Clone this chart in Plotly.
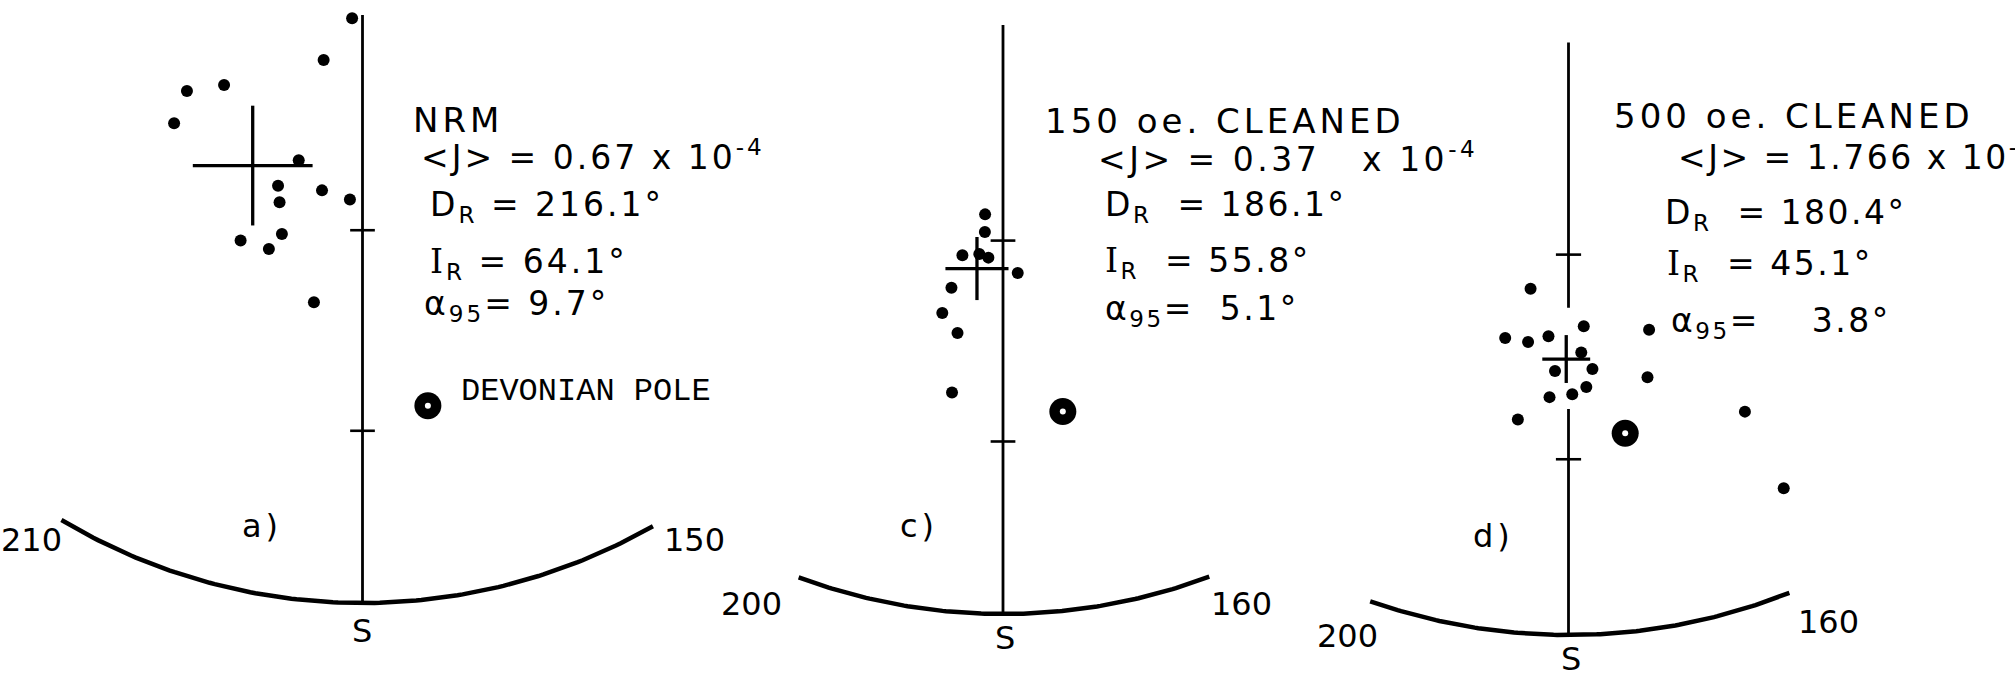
import numpy as np
import plotly.graph_objects as go

W, H = 2015, 679

# ---------------- data (declination, inclination in degrees) ----------------
a_dec = [252.6, 220.8, 243.2, 246.6, 240.1, 203.7, 206.3, 203.9, 193.0, 183.9, 200.2, 208.4, 201.8, 189.6]
a_inc = [88.5, 81.8, 68.5, 63.4, 59.7, 68.0, 63.5, 61.5, 65.0, 64.3, 57.4, 54.1, 54.7, 49.0]
c_dec = [185.4, 185.0, 190.0, 185.9, 183.6, 176.6, 191.1, 191.9, 188.4, 187.9]
c_inc = [63.6, 61.1, 57.4, 57.9, 57.5, 55.3, 52.5, 48.6, 46.1, 37.1]
d_dec = [188.5, 177.0, 164.7, 191.8, 187.5, 183.8, 177.7, 182.3, 175.9, 167.0, 183.0, 179.4, 177.1, 187.5, 154.9, 154.6]
d_inc = [54.8, 49.8, 47.8, 47.2, 47.2, 48.3, 46.0, 43.3, 43.5, 41.1, 39.4, 39.9, 40.9, 35.6, 31.3, 17.5]

panel_labels = ["a)", "c)", "d)"]
titles = ["NRM", "150 oe. CLEANED", "500 oe. CLEANED"]
j_mean = ["0.67", "0.37", "1.766"]
j_exp = "-4"
mean_dec = [216.1, 186.1, 180.4]
mean_inc = [64.1, 55.8, 45.1]
alpha95 = [9.7, 5.1, 3.8]
pole_dec = [170.5, 171.2, 171.9]
pole_inc = [33.1, 34.0, 33.4]
arc_left = [210, 200, 200]
arc_right = [150, 160, 160]
inc_ticks = [30, 60]
pole_label = "DEVONIAN POLE"

dots_dec = [a_dec, c_dec, d_dec]
dots_inc = [a_inc, c_inc, d_inc]

# ---------------- layout geometry (pixels) ----------------
PANELS = [
    dict(cx=362.5, cy=15, R=588, meridian=[(90, 0)], arc=(150.4, 210.8)),
    dict(cx=1003, cy=25, R=589, meridian=[(90, 0)], arc=(159.5, 200.3)),
    dict(cx=1568.5, cy=35, R=600, meridian=[(89, 52.5), (37.7, 0)], arc=(158.4, 199.3)),
]
FONT = "DejaVu Sans"
NB = "\u00a0"
CROSS_K = 0.0105   # net units per degree of alpha95
TICK_HALF = 0.021


def proj(dec, inc):
    dec = np.asarray(dec, dtype=float)
    inc = np.asarray(inc, dtype=float)
    r = np.sqrt(2) * np.sin(np.radians(90 - inc) / 2)
    return r * np.sin(np.radians(dec)), r * np.cos(np.radians(dec))


def P(x, y):
    return x / W, 1 - y / H


fig = go.Figure()
layout = dict(width=W, height=H, margin=dict(l=0, r=0, t=0, b=0),
              paper_bgcolor="white", plot_bgcolor="rgba(0,0,0,0)",
              showlegend=False)
annotations = []

for k, p in enumerate(PANELS):
    sx = "" if k == 0 else str(k + 1)
    xa, ya = "x" + sx, "y" + sx
    R = p["R"]
    layout["xaxis" + sx] = dict(domain=[0, 1], range=[-p["cx"] / R, (W - p["cx"]) / R],
                                visible=False, anchor=ya, fixedrange=True)
    layout["yaxis" + sx] = dict(domain=[0, 1], range=[(p["cy"] - H) / R, p["cy"] / R],
                                visible=False, anchor=xa, fixedrange=True)
    line_kw = dict(mode="lines", xaxis=xa, yaxis=ya, hoverinfo="skip")

    # primitive circle arc
    ad = np.linspace(p["arc"][0], p["arc"][1], 120)
    ax_, ay_ = proj(ad, np.zeros_like(ad))
    fig.add_trace(go.Scatter(x=ax_, y=ay_, line=dict(color="black", width=4.5), **line_kw))

    # south meridian (inclination scale)
    mx, my = [], []
    for i1, i2 in p["meridian"]:
        ii = np.linspace(i1, i2, 30)
        x_, y_ = proj(np.full_like(ii, 180.0), ii)
        mx += list(x_) + [None]
        my += list(y_) + [None]
    fig.add_trace(go.Scatter(x=mx, y=my, line=dict(color="black", width=2.8), **line_kw))

    # inclination ticks
    tx, ty = [], []
    for t in inc_ticks:
        _, y0 = proj(180.0, t)
        tx += [-TICK_HALF, TICK_HALF, None]
        ty += [float(y0), float(y0), None]
    fig.add_trace(go.Scatter(x=tx, y=ty, line=dict(color="black", width=2.6), **line_kw))

    # mean direction with alpha95 cross
    cxm, cym = proj(mean_dec[k], mean_inc[k])
    cxm, cym = float(cxm), float(cym)
    h = alpha95[k] * CROSS_K
    fig.add_trace(go.Scatter(x=[cxm - h, cxm + h, None, cxm, cxm],
                             y=[cym, cym, None, cym - h, cym + h],
                             line=dict(color="black", width=3.3), **line_kw))

    # specimen directions
    dx, dy = proj(dots_dec[k], dots_inc[k])
    fig.add_trace(go.Scatter(x=dx, y=dy, mode="markers", xaxis=xa, yaxis=ya,
                             marker=dict(color="black", size=12, line=dict(width=0))))

    # Devonian pole
    px_, py_ = proj(pole_dec[k], pole_inc[k])
    fig.add_trace(go.Scatter(x=[float(px_)], y=[float(py_)], mode="markers", xaxis=xa, yaxis=ya,
                             marker=dict(color="black", size=27, line=dict(width=0))))
    fig.add_trace(go.Scatter(x=[float(px_)], y=[float(py_)], mode="markers", xaxis=xa, yaxis=ya,
                             marker=dict(color="white", size=6, line=dict(width=0))))


# ---------------- text ----------------
def ann(text, x, y, xanchor="left", size=33, family=FONT, ls=None):
    xp, yp = P(x, y)
    if ls:
        t = f'<span style="letter-spacing:{ls}px;font-size:{size}px">{text}</span>'
    else:
        t = text
    annotations.append(dict(text=t, x=xp, y=yp, xref="paper", yref="paper",
                            xanchor=xanchor, yanchor="middle", showarrow=False,
                            font=dict(family=family, size=size, color="black")))


def serif_i(size):
    return f'<span style="font-family:\'DejaVu Serif\';font-size:{size}px">I</span>'


# per panel text positions (left x, centre y)
text_pos = [
    [(411, 120), (419, 156), (428, 206), (428, 264), (422, 305)],
    [(1043, 121), (1096, 157), (1103, 206), (1103, 262), (1103, 311)],
    [(1612, 116), (1676, 156), (1663, 214), (1665, 266), (1669, 322)],
]
gap_eq = [NB, NB * 2, NB * 2]
gap_a = [NB, NB * 2, NB * 4]
j_gap = [NB, NB * 3, NB]
j_ls = [3, 3.5, 2.5]
val_ls = [3, 2.5, 2.5]

for k in range(3):
    tp = text_pos[k]
    ann(titles[k], *tp[0], size=34, ls=4)
    ann(f"&lt;J&gt; = {j_mean[k]}{j_gap[k]}x 10<sup>{j_exp}</sup>", *tp[1], size=33, ls=j_ls[k])
    ann(f"D<sub>R</sub>{gap_eq[k]}={NB}{mean_dec[k]:.1f}°", *tp[2], ls=val_ls[k])
    ann(f"{serif_i(33)}<sub>R</sub>{gap_eq[k]}={NB}{mean_inc[k]:.1f}°", *tp[3], ls=val_ls[k])
    ann(f"α<sub>95</sub>={gap_a[k]}{alpha95[k]:.1f}°", *tp[4], ls=val_ls[k])

# arc end labels, S and panel letters
left_lab = [(31, 540), (751, 604), (1347, 636)]
right_lab = [(694, 540), (1241, 604), (1828, 622)]
s_lab = [(362, 631), (1005, 638), (1571, 659)]
panel_lab = [(262, 526), (919, 526), (1493, 536)]
for k in range(3):
    ann(str(arc_left[k]), *left_lab[k], xanchor="center", size=32)
    ann(str(arc_right[k]), *right_lab[k], xanchor="center", size=32)
    ann("S", *s_lab[k], xanchor="center", size=32)
    ann(panel_labels[k], *panel_lab[k], xanchor="center", size=32, ls=4)

ann(pole_label, 459, 392, size=32, family="Liberation Mono")

layout["annotations"] = annotations
fig.update_layout(**layout)
fig.write_html("out.html", config={"displayModeBar": False},
               post_script="document.body.style.margin='0';document.body.style.overflow='hidden';")
